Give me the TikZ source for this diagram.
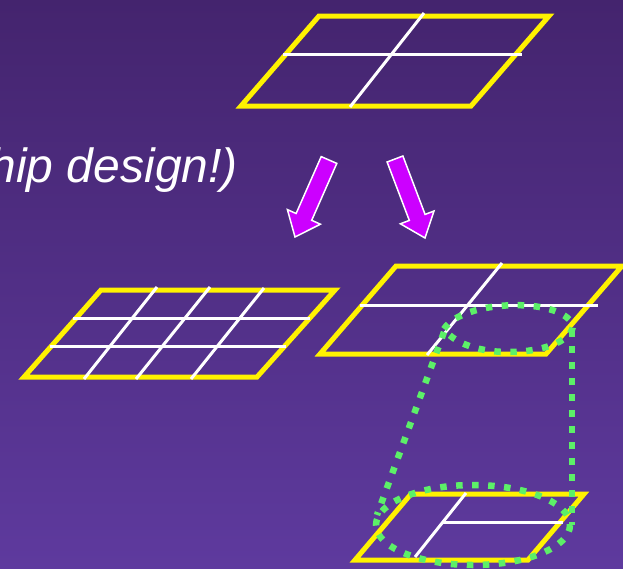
\documentclass[tikz,border=0pt]{standalone}
\usepackage{fontspec}
\setmainfont{Liberation Sans}
\definecolor{bgtop}{RGB}{68,36,110}
\definecolor{bgbot}{RGB}{94,58,158}
\definecolor{dotgreen}{RGB}{92,240,104}
\definecolor{arrowmag}{RGB}{204,0,255}
\begin{document}
\begin{tikzpicture}[x=1pt,y=-1pt,
  gridframe/.style={draw=yellow, line width=5pt, line join=miter},
  wline/.style={draw=white, line width=3pt},
  dotline/.style={draw=dotgreen, line width=6.5pt, dash pattern=on 6.5pt off 9.5pt},
  blockarrow/.style={fill=arrowmag, draw=white, line width=1.5pt, line join=miter}]
\useasboundingbox (0,0) rectangle (623,568);
\shade[top color=bgtop, bottom color=bgbot] (0,0) rectangle (623,568);
\clip (0,0) rectangle (623,568);

% caption
\node[anchor=base east, text=white, font=\fontsize{48}{56}\selectfont\itshape, inner sep=0pt] (caption) at (238,182) {hip design!)};

% top grid (2x2)
\draw[gridframe] (319,16) -- (549,16) -- (471,106) -- (241,106) -- cycle;
\draw[wline] (283,54.5) -- (522,54.5);
\draw[wline] (424,13) -- (350,107);

% left grid (3x4)
\draw[gridframe] (101,290) -- (335,290) -- (257,377) -- (24,377) -- cycle;
\draw[wline] (73,318.5) -- (310,318.5);
\draw[wline] (50,346.5) -- (286,346.5);
\draw[wline] (157,287) -- (84,379);
\draw[wline] (210,287) -- (136,379);
\draw[wline] (264,288) -- (191,379);

% right middle grid
\draw[gridframe] (396,266) -- (622,266) -- (546,354) -- (320,354) -- cycle;
\draw[wline] (360,305) -- (598,305);
\draw[wline] (502,263) -- (427,355);

% bottom grid
\draw[gridframe] (411,494) -- (584,494) -- (528,560) -- (355,560) -- cycle;
\draw[wline] (466,493) -- (415,557);
\draw[wline] (442,522) -- (563,522);

% block arrows
\draw[blockarrow] (321.2,156.6) -- (336.8,163.4) -- (311.7,220.3) -- (320.4,224.2) -- (295,237) -- (287.4,209.6) -- (296.1,213.5) -- cycle;
\draw[blockarrow] (387.1,162.0) -- (402.9,156.0) -- (425.1,214.4) -- (434.0,211.0) -- (425,238) -- (400.4,223.8) -- (409.3,220.4) -- cycle;

% green dotted region
\draw[dotline] (444,329) .. controls (462,300) and (560,296) .. (573,325)
  .. controls (572,355) and (470,365) .. cycle;
\draw[dotline] (444,332) -- (377,515);
\draw[dotline] (572,330) -- (572,525);
\draw[dotline] (473,525) ellipse [x radius=97, y radius=40];
\end{tikzpicture}
\end{document}
